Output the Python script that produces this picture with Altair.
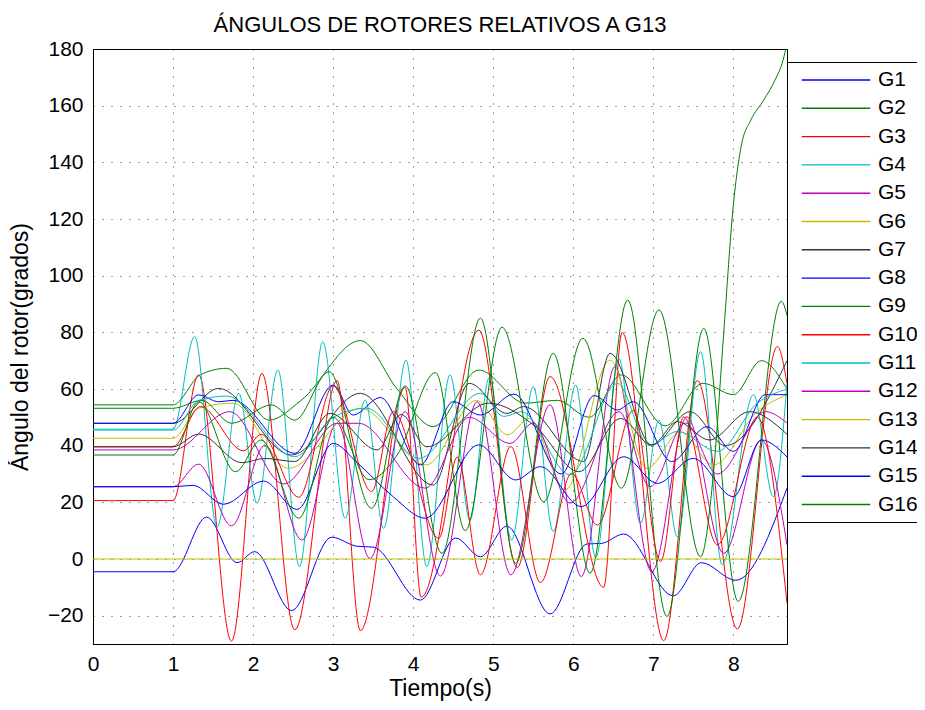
import altair as alt
import pandas as pd

series_names = ["G1", "G2", "G3", "G4", "G5", "G6", "G7", "G8",
                "G9", "G10", "G11", "G12", "G13", "G14", "G15", "G16"]
series_colors = ["#0000FF", "#008000", "#FF0000", "#00BFBF", "#BF00BF", "#BFBF00", "#333333", "#0000FF",
                 "#008000", "#FF0000", "#00BFBF", "#BF00BF", "#BFBF00", "#333333", "#0000FF", "#008000"]

x_ticks = [0, 1, 2, 3, 4, 5, 6, 7, 8]
y_ticks = [-20, 0, 20, 40, 60, 80, 100, 120, 140, 160, 180]

g1_t = [0, 1.0, 1.42, 1.8, 2.02, 2.48, 2.98, 3.3, 3.5, 4.09, 4.53, 4.84, 5.17, 5.71, 6.17, 6.35, 6.63, 7.25, 7.6, 8.03, 8.67]
g1_v = [-4.5, -4.5, 14.8, -1.3, 2.6, -18.2, 7.7, 4.5, 4.2, -14.5, 7.4, 0.8, 11.6, -19.4, 5.3, 5.5, 8.8, -13, -1.3, -7.5, 25]

g2_t = [0, 1.0, 1.34, 1.67, 2.2, 2.6, 3.34, 3.8, 4.25, 4.82, 5.4, 5.8, 6.2, 6.6, 7.15, 7.62, 8.0, 8.35, 8.67]
g2_v = [54.4, 54.4, 65, 67.3, 49, 56, 77.1, 60, 46.7, 66.7, 55, 56, 50, 65, 47, 62, 58, 70, 60]

g3_t = [0, 1.0, 1.32, 1.73, 2.11, 2.52, 3.05, 3.34, 3.9, 4.1, 4.82, 5.3, 5.71, 6.38, 6.61, 7.13, 7.55, 8.05, 8.55, 8.67]
g3_v = [20.6, 20.6, 65, -29, 65.5, -25, 63, -25.3, 60.6, -13.5, 80.8, -3, 64.4, -10, 80, -28.8, 63, -24.7, 75, 62]

g4_t = [0, 1.0, 1.27, 1.55, 1.82, 2.05, 2.31, 2.58, 2.87, 3.15, 3.4, 3.63, 3.91, 4.17, 4.46, 4.71, 4.95, 5.23,
        5.5, 5.75, 6.03, 6.28, 6.57, 6.84, 7.07, 7.3, 7.59, 7.86, 8.25, 8.5, 8.67]
g4_v = [45.8, 45.8, 78.5, 11.4, 58.5, 19.7, 66.7, -2.7, 76.7, 14.4, 56.1, 10.8, 70.2, -2.7, 65, 13.8, 64, 6.7,
        60.8, 9.7, 61.4, 0.5, 70.8, 12.6, 49, 7.9, 73.2, -2, 58, 22, 62]

g5_t = [0, 1.0, 1.32, 1.73, 2.15, 2.61, 3.05, 3.46, 3.9, 4.34, 4.8, 5.22, 5.71, 6.1, 6.52, 6.98, 7.42, 7.88, 8.35, 8.67]
g5_v = [25.5, 25.5, 33.5, 11.7, 40.2, 6.7, 47.9, 0.2, 52, -6, 55.5, -5.6, 54.4, -6.2, 67.9, -4.5, 50.2, 2, 42, 5]

g6_t = [0, 1.0, 1.32, 1.75, 2.44, 3.34, 4.16, 4.79, 5.18, 5.45, 5.9, 6.46, 6.92, 7.34, 7.75, 8.3, 8.67]
g6_v = [42.6, 42.6, 53.2, 55, 32, 53.2, 33.2, 56, 43.8, 49.6, 24.4, 70.2, 32, 44.9, 33.2, 52, 58]

g7_t = [0, 1.0, 1.57, 2.48, 3.34, 4.25, 4.7, 5.17, 5.38, 6.13, 6.46, 6.98, 7.46, 7.9, 8.67]
g7_v = [47.9, 47.9, 60.2, 36.7, 58.5, 26.1, 62, 51.4, 53.8, 34.4, 72.6, 40.2, 52, 40, 70]

g8_t = [0, 1.0, 1.32, 1.57, 1.75, 2.52, 3.0, 3.25, 3.59, 4.09, 4.5, 4.84, 5.26, 5.85, 6.26, 6.55, 6.75, 7.23,
        7.67, 8.0, 8.4, 8.67]
g8_v = [47.9, 47.9, 57.9, 55.5, 56, 37.3, 61.4, 50.8, 57, 33.2, 55.5, 50.8, 58.2, 30, 57.7, 52.6, 55.5, 34.4,
        46.7, 38, 58, 58]

g9_t = [0, 1.0, 1.36, 1.73, 2.23, 2.52, 2.95, 3.48, 3.9, 4.36, 4.84, 5.28, 5.75, 6.21, 6.68, 7.17, 7.63, 8.06, 8.6, 8.67]
g9_v = [53.2, 53.2, 56, 47.9, 54.4, 49, 66.1, 17.9, 61.1, 2, 85, -1.5, 72.6, -5, 91.4, -20.3, 81.4, -15, 91, 86]

g10_t = [0, 1.0, 1.34, 1.88, 2.1, 2.57, 3.0, 3.48, 3.75, 4.32, 4.55, 4.84, 5.22, 5.59, 5.98, 6.3, 6.75, 7.09,
         7.38, 7.8, 8.3, 8.67]
g10_v = [39.6, 39.6, 53.8, 38.2, 44, 21.8, 61, 23.8, 52, 7.3, 36, -5.6, 39.7, -8.3, 30.2, 12, 52.4, -0.9,
         50.2, 5, 50, -15.5]

g11_t = [0, 1.0, 1.32, 1.67, 2.52, 3.0, 3.42, 4.07, 4.84, 5.13, 5.35, 5.96, 6.55, 6.95, 7.3, 7.8, 8.3, 8.67]
g11_v = [45.5, 45.5, 56, 57.5, 36.1, 50, 53.2, 35.5, 58.5, 50.3, 52, 29.7, 62, 40, 45, 38, 55, 60]

g12_t = [0, 1.0, 1.71, 2.38, 3.05, 3.32, 4.15, 4.7, 5.21, 5.5, 5.96, 6.57, 6.96, 7.4, 7.8, 8.4, 8.67]
g12_v = [38.5, 38.5, 52, 26.5, 47.9, 47.9, 25, 50, 40.8, 48, 19.7, 52, 25.5, 48, 30, 52, 48]

g13_t = [0, 8.67]
g13_v = [0, 0]

g14_t = [0, 1.0, 1.32, 1.86, 2.15, 2.52, 2.96, 3.55, 3.85, 4.17, 4.94, 5.53, 6.07, 6.59, 6.98, 7.3, 7.7, 8.2, 8.67]
g14_v = [39.6, 39.6, 44.1, 34, 35.5, 34.4, 51.4, 38.5, 51, 39.6, 55, 46.7, 30.8, 49.6, 40.2, 48.5, 42, 52, 44]

g15_t = [0, 1.0, 1.25, 1.63, 2.13, 2.55, 3.0, 3.3, 3.75, 4.15, 4.82, 5.28, 5.59, 6.1, 6.63, 7.05, 7.5, 8.0, 8.35, 8.67]
g15_v = [25.5, 25.5, 26, 19.3, 27.5, 17.5, 40.8, 34, 22, 14.4, 40.3, 27.9, 32.6, 18.5, 36.1, 26.7, 35.5, 22, 42, 36]

g16_t = [0, 1.0, 1.32, 1.78, 2.1, 2.57, 3.0, 3.45, 3.8, 4.28, 4.65, 5.11, 5.63, 6.12, 6.6, 7.07, 7.59, 7.75,
         7.88, 8.0, 8.1, 8.22, 8.38, 8.52, 8.62, 8.67]
g16_v = [36.7, 36.7, 55.5, 30.8, 42, 14.4, 50, 28, 36.7, 65.8, 10, 81.8, 20.2, 77.9, 25, 87.9, 0.8, 30,
         80, 125, 146, 155, 162, 169, 176, 182]

all_t = [g1_t, g2_t, g3_t, g4_t, g5_t, g6_t, g7_t, g8_t, g9_t, g10_t, g11_t, g12_t, g13_t, g14_t, g15_t, g16_t]
all_v = [g1_v, g2_v, g3_v, g4_v, g5_v, g6_v, g7_v, g8_v, g9_v, g10_v, g11_v, g12_v, g13_v, g14_v, g15_v, g16_v]

rows = []
for order, (name, ts, vs) in enumerate(zip(series_names, all_t, all_v)):
    for t, v in zip(ts, vs):
        rows.append({"serie": name, "orden": order, "t": t, "v": v})
df = pd.DataFrame(rows)

FONT = "Liberation Sans"

chart = alt.Chart(df).mark_line(interpolate="monotone", strokeWidth=1, clip=True).encode(
    x=alt.X("t:Q",
            scale=alt.Scale(domain=[0, 8.67], nice=False, zero=False),
            axis=alt.Axis(values=x_ticks, format="d", title="Tiempo(s)",
                          labelPadding=9, titlePadding=3, labelFlush=False)),
    y=alt.Y("v:Q",
            scale=alt.Scale(domain=[-30, 180], nice=False, zero=False),
            axis=alt.Axis(values=y_ticks, format="d", title="Ángulo del rotor(grados)",
                          labelPadding=10, titlePadding=15, labelFlush=False)),
    color=alt.Color("serie:N",
                    scale=alt.Scale(domain=series_names, range=series_colors),
                    legend=alt.Legend(orient="none", legendX=694, legendY=13, title=None,
                                      strokeColor="black", fillColor="white", padding=7,
                                      symbolType="M-0.33,0H6.53", symbolSize=400,
                                      symbolStrokeWidth=1.4, symbolOpacity=1, labelOffset=62,
                                      labelFont=FONT, labelFontSize=21, labelColor="black",
                                      rowPadding=7.3, labelLimit=0)),
    order=alt.Order("orden:Q"),
).properties(
    width=694,
    height=595,
    title=alt.Title("ÁNGULOS DE ROTORES RELATIVOS A G13", font=FONT, fontSize=22,
                    fontWeight="normal", color="black", anchor="middle", offset=1),
    autosize=alt.AutoSizeParams(type="none"),
    padding={"left": 85, "top": 41, "right": 130, "bottom": 58},
).configure_view(
    stroke="black", strokeWidth=1
).configure_axis(
    domainColor="black", domainWidth=1, ticks=False, tickSize=0,
    grid=True, gridColor="#000000", gridOpacity=0.75, gridDash=[1, 8], gridWidth=1,
    labelFont=FONT, labelFontSize=21, labelColor="black",
    titleFont=FONT, titleFontSize=23, titleFontWeight="normal", titleColor="black",
)

chart.save("out.html", embed_options={"renderer": "svg", "actions": False})
